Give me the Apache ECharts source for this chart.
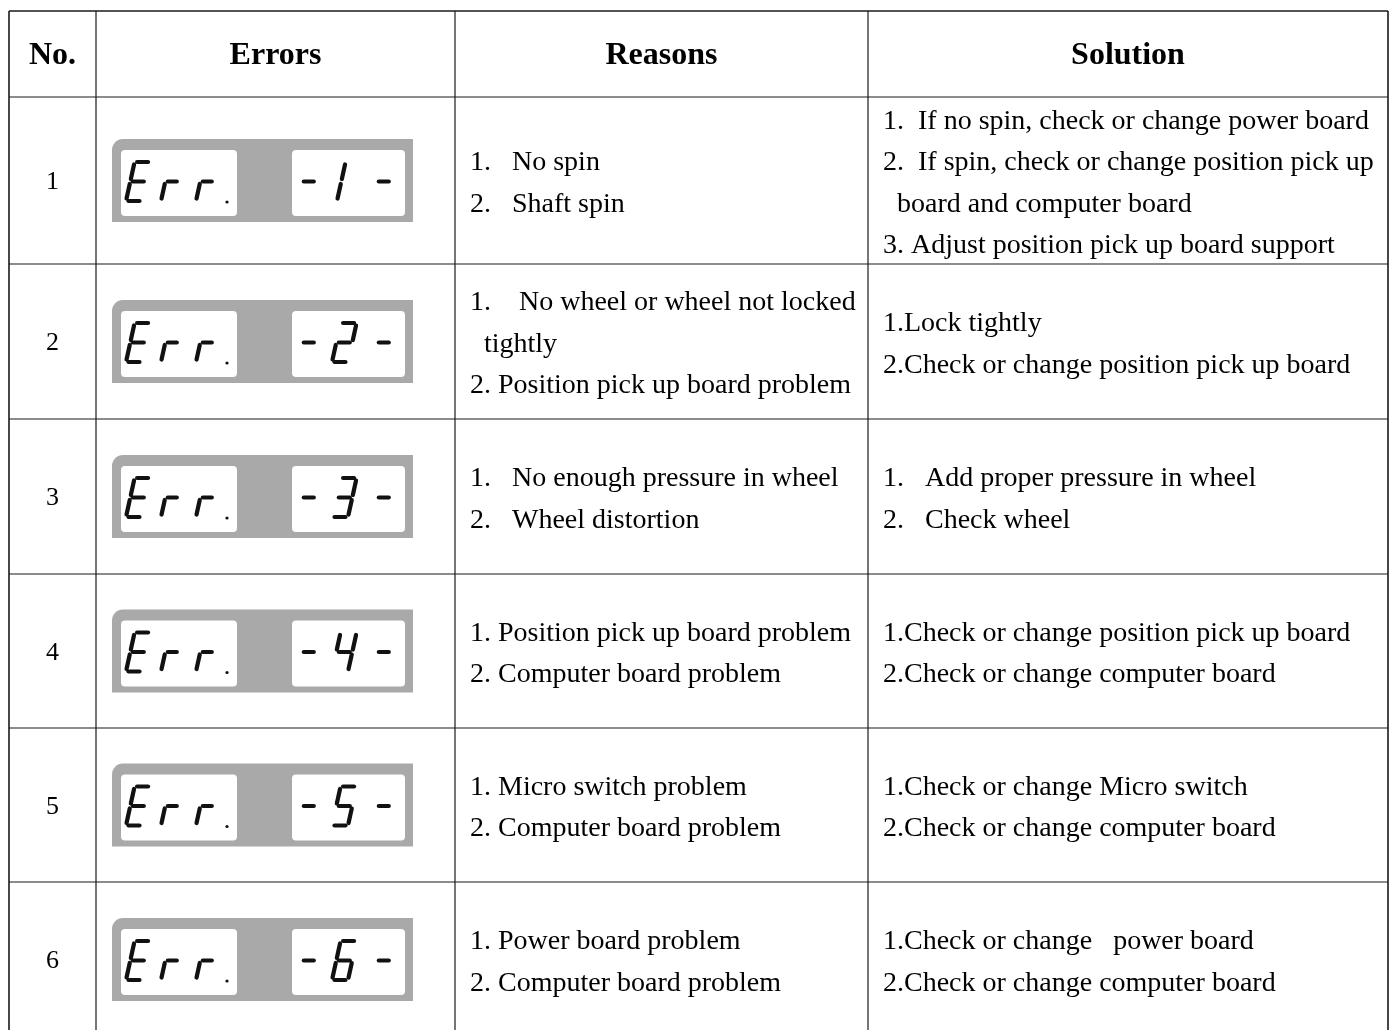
<!DOCTYPE html>
<html><head><meta charset="utf-8">
<script src="https://cdn.jsdelivr.net/npm/echarts@6/dist/echarts.min.js"></script>
<style>html,body{margin:0;padding:0;background:#fff}#c{width:1392px;height:1030px}</style>
</head><body><div id="c"></div>
<script>
// ---- data ----
const headers = ['No.', 'Errors', 'Reasons', 'Solution'];
const numbers = ['1', '2', '3', '4', '5', '6'];
const errorPrefix = 'Err.';
const errorDigits = ['1', '2', '3', '4', '5', '6'];
const reasons = [
  ['1.   No spin', '2.   Shaft spin'],
  ['1.    No wheel or wheel not locked', '  tightly', '2. Position pick up board problem'],
  ['1.   No enough pressure in wheel', '2.   Wheel distortion'],
  ['1. Position pick up board problem', '2. Computer board problem'],
  ['1. Micro switch problem', '2. Computer board problem'],
  ['1. Power board problem', '2. Computer board problem']
];
const solutions = [
  ['1.  If no spin, check or change power board', '2.  If spin, check or change position pick up', '  board and computer board', '3. Adjust position pick up board support'],
  ['1.Lock tightly', '2.Check or change position pick up board'],
  ['1.   Add proper pressure in wheel', '2.   Check wheel'],
  ['1.Check or change position pick up board', '2.Check or change computer board'],
  ['1.Check or change Micro switch', '2.Check or change computer board'],
  ['1.Check or change   power board', '2.Check or change computer board']
];

// ---- layout (style only) ----
const colX = [9, 96, 455, 868, 1388];
const tableTop = 11, headerBottom = 97;
const rowHeights = [167, 155, 155, 154, 154, 155];
const rowTops = [];
(function(){ let y = headerBottom; rowHeights.forEach(h => { rowTops.push(y); y += h; }); rowTops.push(y); })();
const LINE = '#1a1a1a';
const SERIF = '"Liberation Serif", "Times New Roman", serif';
const BODY_FONT = '28px ' + SERIF;
const LH = 41.5;

// 7-segment glyphs
const SEG_MAP = { 'E': 'adefg', 'r': 'eg', '-': 'g', '0': 'abcdef', '1': 'bc', '2': 'abdeg', '3': 'abcdg', '4': 'bcfg', '5': 'acdfg', '6': 'acdefg' };
function segLines(ch, x0, yb, W, H, s, gp, lw) {
  const segs = {
    a: [[gp, H], [W - gp, H]],
    b: [[W, H - gp], [W, H / 2 + gp]],
    c: [[W, H / 2 - gp], [W, gp]],
    d: [[gp, 0], [W - gp, 0]],
    e: [[0, H / 2 - gp], [0, gp]],
    f: [[0, H - gp], [0, H / 2 + gp]],
    g: [[gp, H / 2], [W - gp, H / 2]]
  };
  const P = (u, v) => [x0 + u + s * v, yb - v];
  return (SEG_MAP[ch] || '').split('').map(k => {
    const p1 = P(segs[k][0][0], segs[k][0][1]);
    const p2 = P(segs[k][1][0], segs[k][1][1]);
    return { type: 'line', shape: { x1: p1[0], y1: p1[1], x2: p2[0], y2: p2[1] },
      style: { stroke: '#111', lineWidth: lw, lineCap: 'round' }, silent: true };
  });
}

function errorDisplay(cy, digit) {
  const kids = [];
  kids.push({ type: 'rect', shape: { x: 112, y: cy - 41.5, width: 301, height: 83, r: [11, 0, 0, 0] }, style: { fill: '#a9a9a9' } });
  kids.push({ type: 'rect', shape: { x: 121, y: cy - 30.5, width: 116, height: 66, r: 4 }, style: { fill: '#fff' } });
  kids.push({ type: 'rect', shape: { x: 292, y: cy - 30.5, width: 113, height: 66, r: 4 }, style: { fill: '#fff' } });
  const yb = cy + 20.5, H = 39, W = 16, s = 0.22, gp = 2.5, lw = 4.2;
  const chars = errorPrefix.replace('.', '').split('');
  const leftX = [126, 161, 196];
  chars.forEach((ch, k) => { kids.push(...segLines(ch, leftX[k], yb, ch === 'r' ? 14 : W, H, s, gp, lw)); });
  if (errorPrefix.indexOf('.') >= 0) {
    kids.push({ type: 'circle', shape: { cx: 227, cy: yb + 1, r: 1.6 }, style: { fill: '#111' } });
  }
  kids.push(...segLines('-', 297, yb, 15, H, s, gp, lw));
  kids.push(...segLines(digit, digit === '1' ? 321 : 332, yb, W, H, s, gp, lw));
  kids.push(...segLines('-', 372, yb, 15, H, s, gp, lw));
  return kids;
}

function textBlock(x, cy, lines, align) {
  return { type: 'text', style: { x: x, y: cy, text: lines.join('\n'), font: BODY_FONT, fill: '#000',
    align: align || 'left', verticalAlign: 'middle', textAlign: align || 'left', textVerticalAlign: 'middle', lineHeight: LH } };
}

// header + grid lines via graphic
const graphics = [];
const tableBottom = 1040;
colX.forEach((x, i) => {
  graphics.push({ type: 'line', shape: { x1: x, y1: tableTop, x2: x, y2: tableBottom },
    style: { stroke: LINE, lineWidth: (i === 0 || i === colX.length - 1) ? 1.6 : 1.2 } });
});
graphics.push({ type: 'line', shape: { x1: colX[0], y1: tableTop, x2: colX[4], y2: tableTop }, style: { stroke: LINE, lineWidth: 1.6 } });
graphics.push({ type: 'line', shape: { x1: colX[0], y1: headerBottom, x2: colX[4], y2: headerBottom }, style: { stroke: LINE, lineWidth: 1.2 } });
headers.forEach((h, i) => {
  graphics.push({ type: 'text', style: { x: (colX[i] + colX[i + 1]) / 2, y: (tableTop + headerBottom) / 2 + 2, text: h,
    font: 'bold 32px ' + SERIF, fill: '#000', align: 'center', verticalAlign: 'middle', textAlign: 'center', textVerticalAlign: 'middle' } });
});

const chart = echarts.init(document.getElementById('c'), null, { renderer: 'canvas' });
chart.setOption({
  backgroundColor: '#fff',
  animation: false,
  graphic: graphics,
  series: [{
    type: 'custom',
    coordinateSystem: 'none',
    data: numbers.map((n, i) => [i]),
    renderItem: function (params, api) {
      const i = params.dataIndex;
      const top = rowTops[i], bottom = rowTops[i + 1];
      const cy = (top + bottom) / 2;
      const children = [];
      children.push({ type: 'line', shape: { x1: colX[0], y1: bottom, x2: colX[4], y2: bottom }, style: { stroke: LINE, lineWidth: 1.2 } });
      children.push({ type: 'text', style: { x: (colX[0] + colX[1]) / 2, y: cy + 2, text: numbers[i], font: '26px ' + SERIF, fill: '#000',
        align: 'center', verticalAlign: 'middle', textAlign: 'center', textVerticalAlign: 'middle' } });
      children.push(...errorDisplay(cy, errorDigits[i]));
      children.push(textBlock(colX[2] + 15, cy + 3, reasons[i]));
      children.push(textBlock(colX[3] + 15, cy + 3, solutions[i]));
      return { type: 'group', children: children };
    }
  }]
});
</script>
</body></html>
